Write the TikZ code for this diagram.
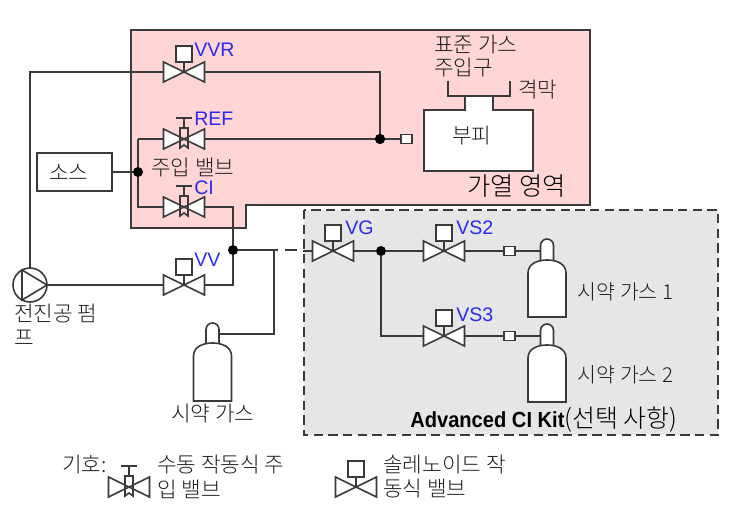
\documentclass[tikz,border=0pt]{standalone}
\usepackage{fontspec}
\setmainfont{Liberation Sans}
\newfontfamily\kr{Noto Sans CJK KR Light}
\newfontfamily\boldnarrow[FakeStretch=0.92]{Liberation Sans Bold}
\definecolor{linec}{HTML}{3A3A3A}
\definecolor{labelblue}{HTML}{2A2AF0}
\definecolor{txt}{HTML}{1E1E1E}
\definecolor{heat}{HTML}{FFD5D5}
\definecolor{kit}{HTML}{E6E6E6}
\tikzset{x=0.75pt,y=-0.75pt,
  pipe/.style={draw=linec,line width=1.2pt},
  zone/.style={draw=linec,line width=1.4pt},
  symb/.style={draw=linec,line width=1.2pt,fill=white,line join=miter},
  dotn/.style={circle,fill=black,inner sep=0pt,minimum size=7.5pt},
  sqn/.style={draw=linec,line width=1.2pt,fill=white,inner sep=0pt,minimum width=8.2pt,minimum height=6.8pt},
  krt/.style={text=txt,inner sep=0pt,align=left,font=\fontsize{16}{20}\kr},
  tag/.style={text=labelblue,inner sep=0pt,anchor=west,font=\fontsize{14.7}{16}\selectfont},
  port/.style={inner sep=0pt,minimum size=0pt}
}
\newcommand{\solvalve}[3]{% name, x, y
  \coordinate (#1) at (#2,#3);
  \coordinate (#1w) at (#2-20.5,#3);
  \coordinate (#1e) at (#2+20.5,#3);
  \draw[symb] (#2-20.5,#3-10) -- (#2+20.5,#3+10) -- (#2+20.5,#3-10) -- (#2-20.5,#3+10) -- cycle;
  \draw[symb] (#2,#3) -- (#2,#3-10);
  \draw[symb] (#2-8,#3-26) rectangle (#2+8,#3-10);
}
\newcommand{\manvalve}[3]{% name, x, y
  \coordinate (#1) at (#2,#3);
  \coordinate (#1w) at (#2-20.5,#3);
  \coordinate (#1e) at (#2+20.5,#3);
  \draw[symb] (#2-20.5,#3-10) -- (#2+20.5,#3+10) -- (#2+20.5,#3-10) -- (#2-20.5,#3+10) -- cycle;
  \draw[symb] (#2-8,#3-21) -- (#2+8,#3-21) (#2,#3-21) -- (#2,#3-11);
  \draw[symb,fill=none] (#2-4,#3-11) -- (#2+4,#3-11) -- (#2+4,#3+9) -- (#2,#3+6) -- (#2-4,#3+9) -- cycle;
}
\newcommand{\cylinder}[5]{% name, neck-centre x, top y, shoulder y, bottom y
  \coordinate (#1) at (#2-6.5,#3+12);
  \coordinate (#1e) at (#2+6.5,#3+12);
  \draw[symb] (#2-6.5,#4) -- (#2-6.5,#3+6.5) arc[start angle=180,end angle=360,radius=6.5] -- (#2+6.5,#4);
  \draw[symb] (#2-19,#5) -- (#2-19,#4+13) .. controls (#2-19,#4+4) and (#2-10,#4) .. (#2,#4) .. controls (#2+10,#4) and (#2+19,#4+4) .. (#2+19,#4+13) -- (#2+19,#5) -- cycle;
}
\begin{document}
\begin{tikzpicture}
\useasboundingbox (0,0) rectangle (736,513);
% zones
\draw[zone,fill=heat] (131,30) -- (590,30) -- (590,205) -- (246,205) -- (246,228) -- (131,228) -- cycle;
\draw[zone,fill=kit,dashed,dash pattern=on 7pt off 4pt] (304,210) rectangle (718,435);

% junctions and ports
\coordinate (pumpn) at (30,268);
\coordinate (pumpe) at (47,285);
\node[dotn] (j1) at (380,139) {};
\node[dotn] (j2) at (138,172) {};
\node[dotn] (j3) at (233,250) {};
\node[dotn] (j4) at (381,251) {};
\coordinate (c1) at (274,250);
\coordinate (c0) at (278,250);
\coordinate (d1) at (285,250);
\coordinate (d2) at (297,250);
\coordinate (d3) at (303,251);

% pipes under the symbols
\draw[pipe] (pumpn) |- (184,72);
\draw[pipe] (184,72) -| (j1);
\draw[pipe] (138,139) -- (j1);
\draw[pipe] (138,139) -- (j2) -- (138,207) -- (233,207) -- (j3);
\draw[pipe] (pumpe) -- (233,285) -- (j3);
\draw[pipe] (j3) -- (c0);
\draw[pipe] (d1) -- (d2);
\draw[pipe] (d3) -- (j4) -- (541,251);
\draw[pipe] (j4) |- (541,336);
\draw[pipe] (c1) |- (219,334);

% source
\node[draw=linec,line width=1.2pt,fill=white,minimum width=56.5pt,minimum height=28.5pt,inner sep=0pt,krt] (src) at (74.5,172) {소스\hspace{8.5pt}};
\draw[pipe] (src.east) -- (j2);

% sample
\draw[symb] (424,110) -- (465,110) -- (465,96) -- (493,96) -- (493,110) -- (533,110) -- (533,171) -- (424,171) -- cycle;
\draw[pipe] (448,81) -- (448,96) -- (510,96) -- (510,81);
\node[sqn] (s1) at (406.5,139) {};
\draw[pipe] (j1) -- (s1);
\node[dotn] at (j1) {};

% valves
\solvalve{vvr}{184}{72}
\manvalve{ref}{184}{139}
\manvalve{ci}{184}{207}
\solvalve{vv}{184}{285}
\solvalve{vg}{333}{251}
\solvalve{vsa}{444}{251}
\solvalve{vsb}{444}{336}
\manvalve{lgm}{129}{487}
\solvalve{lgs}{356}{487}
\node[sqn] (s2) at (509.5,251) {};
\node[sqn] (s3) at (509.5,336) {};

% pump
\draw[symb] (30,285) circle[radius=17];
\draw[symb,fill=none] (22,270) -- (22,300) -- (47,285) -- cycle;

% cylinders
\cylinder{cy0}{212.5}{323}{343}{401}
\cylinder{cy1}{547}{239}{260}{317}
\cylinder{cy2}{547}{324}{345}{402}

% tags
\node[tag] (tvvr) at (194,50) {VVR};
\node[tag] (tref) at (194,119) {REF};
\node[tag] (tci) at (194,188) {CI};
\node[tag] (tvv) at (194,260) {VV};
\node[tag] (tvg) at (345,228) {VG};
\node[tag] (tvs2) at (456,228) {VS2};
\node[tag] (tvs3) at (456,315) {VS3};

% korean labels
\node[krt,anchor=west] (t1) at (434,45) {표준 가스};
\node[krt,anchor=west] (t2) at (434,68) {주입구};
\node[krt,anchor=west] (t3) at (518,90) {격막};
\node[krt,anchor=west] (t4) at (452,136) {부피};
\node[krt,anchor=west,font=\fontsize{19}{20}\kr,text=black] (t5) at (467,186) {가열 영역};
\node[krt,anchor=west] (t6) at (151,168) {주입 밸브};
\node[krt,anchor=west] (t7) at (14,313) {전진공 펌};
\node[krt,anchor=west] (t8) at (14,338) {프};
\node[krt,anchor=west] (t9) at (171,414) {시약 가스};
\node[krt,anchor=west,font=\fontsize{15.4}{20}\kr] (t10) at (577.5,292) {시약 가스 1};
\node[krt,anchor=west,font=\fontsize{15.4}{20}\kr] (t11) at (577.5,375) {시약 가스 2};
\node[krt,anchor=west,text=black,font=\fontsize{18.7}{20}\kr] (t12) at (410,420) {{\boldnarrow\fontsize{16.4}{18}\selectfont Advanced CI Kit}(선택 사항)};
\node[krt,anchor=west] (t13) at (62,465) {기호:};
\node[krt,anchor=west] (t14) at (157,465) {수동 작동식 주};
\node[krt,anchor=west] (t15) at (157,489) {입 밸브};
\node[krt,anchor=west] (t16) at (383,465) {솔레노이드 작};
\node[krt,anchor=west] (t17) at (383,489) {동식 밸브};
\end{tikzpicture}
\end{document}
